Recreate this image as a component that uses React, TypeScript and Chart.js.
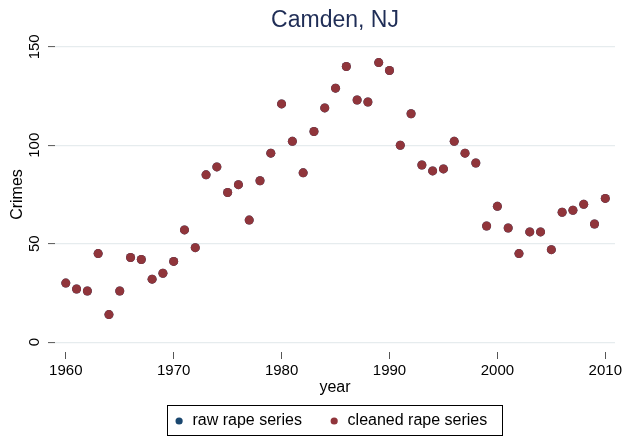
import React, { useEffect, useRef } from "react";
import { Chart, registerables } from "chart.js";

Chart.register(...registerables);

const chartTitle = "Camden, NJ";
const xAxisTitle = "year";
const yAxisTitle = "Crimes";
const seriesLabels = ["raw rape series", "cleaned rape series"];

const years = [
  1960, 1961, 1962, 1963, 1964, 1965, 1966, 1967, 1968, 1969,
  1970, 1971, 1972, 1973, 1974, 1975, 1976, 1977, 1978, 1979,
  1980, 1981, 1982, 1983, 1984, 1985, 1986, 1987, 1988, 1989,
  1990, 1991, 1992, 1993, 1994, 1995, 1996, 1997, 1998, 1999,
  2000, 2001, 2002, 2003, 2004, 2005, 2006, 2007, 2008, 2009, 2010,
];

const rawRape = [
  30, 27, 26, 45, 14, 26, 43, 42, 32, 35,
  41, 57, 48, 85, 89, 76, 80, 62, 82, 96,
  121, 102, 86, 107, 119, 129, 140, 123, 122, 142,
  138, 100, 116, 90, 87, 88, 102, 96, 91, 59,
  69, 58, 45, 56, 56, 47, 66, 67, 70, 60, 73,
];

const cleanedRape = [
  30, 27, 26, 45, 14, 26, 43, 42, 32, 35,
  41, 57, 48, 85, 89, 76, 80, 62, 82, 96,
  121, 102, 86, 107, 119, 129, 140, 123, 122, 142,
  138, 100, 116, 90, 87, 88, 102, 96, 91, 59,
  69, 58, 45, 56, 56, 47, 66, 67, 70, 60, 73,
];

const xTicks = [1960, 1970, 1980, 1990, 2000, 2010];
const yTicks = [0, 50, 100, 150];

const FONT = '"Liberation Sans", Arial, Helvetica, sans-serif';
const RAW_COLOR = "#1a476f";
const CLEAN_COLOR = "#90353b";
const TITLE_COLOR = "#1f2d56";

const titlePlugin = {
  id: "stataTitle",
  afterDraw(chart: any) {
    const { ctx, chartArea } = chart;
    ctx.save();
    ctx.font = `23px ${FONT}`;
    ctx.fillStyle = TITLE_COLOR;
    ctx.textAlign = "center";
    ctx.textBaseline = "middle";
    ctx.fillText(chartTitle, (chartArea.left + chartArea.right) / 2, 20.5);
    ctx.restore();
  },
};

const legendPlugin = {
  id: "boxLegend",
  afterDraw(chart: any) {
    const { ctx, chartArea } = chart;
    ctx.save();
    ctx.font = `16px ${FONT}`;
    const items = chart.data.datasets.map((d: any) => ({
      label: d.label,
      color: d.backgroundColor,
      w: ctx.measureText(d.label).width,
    }));
    const padL = 11.6, padR = 15.6, dotToText = 13.4, itemGap = 32.3, dotR = 3.6;
    let width = padL + padR + itemGap * (items.length - 1);
    items.forEach((it: any) => (width += dotToText + it.w));
    const cx = (chartArea.left + chartArea.right) / 2;
    const left = Math.round(cx - width / 2) + 0.5;
    const top = chartArea.bottom + 53.5;
    const height = 30;
    const midY = top + 15.5;
    ctx.strokeStyle = "#000";
    ctx.lineWidth = 1;
    ctx.strokeRect(left, top, Math.round(width), height);
    let x = left + padL;
    ctx.textAlign = "left";
    ctx.textBaseline = "middle";
    items.forEach((it: any) => {
      ctx.beginPath();
      ctx.arc(x, midY, dotR, 0, Math.PI * 2);
      ctx.fillStyle = it.color;
      ctx.fill();
      ctx.fillStyle = "#000";
      ctx.fillText(it.label, x + dotToText, midY);
      x += dotToText + it.w + itemGap;
    });
    ctx.restore();
  },
};

export default function App() {
  const canvasRef = useRef<HTMLCanvasElement | null>(null);

  useEffect(() => {
    document.body.style.margin = "0";
    const canvas = canvasRef.current;
    if (!canvas) return;
    const chart = new Chart(canvas, {
      type: "scatter",
      data: {
        datasets: [
          {
            label: seriesLabels[0],
            data: years.map((y, i) => ({ x: y, y: rawRape[i] })),
            backgroundColor: RAW_COLOR,
            borderColor: RAW_COLOR,
            pointRadius: 4.5,
            borderWidth: 0,
            order: 1,
          },
          {
            label: seriesLabels[1],
            data: years.map((y, i) => ({ x: y, y: cleanedRape[i] })),
            backgroundColor: CLEAN_COLOR,
            borderColor: CLEAN_COLOR,
            pointRadius: 4.5,
            borderWidth: 0,
            order: 0,
          },
        ],
      },
      options: {
        responsive: false,
        animation: false,
        clip: false,
        layout: { padding: { top: 37, left: 0, right: 11, bottom: 39 } },
        plugins: {
          legend: { display: false },
          title: { display: false },
          tooltip: { enabled: false },
        },
        scales: {
          x: {
            type: "linear",
            min: 1959,
            max: 2010.9,
            afterBuildTicks: (s: any) => {
              s.ticks = xTicks.map((v) => ({ value: v }));
            },
            afterFit: (s: any) => {
              s.height = 48;
            },
            border: { display: false },
            grid: {
              display: true,
              drawOnChartArea: false,
              drawTicks: true,
              tickLength: 7,
              tickColor: "#555",
              tickWidth: 1,
            },
            ticks: {
              padding: 3,
              color: "#000",
              font: { family: FONT, size: 15 },
              maxRotation: 0,
              callback: (v: any) => String(v),
            },
            title: {
              display: true,
              text: xAxisTitle,
              color: "#000",
              font: { family: FONT, size: 16 },
              padding: { top: 0, bottom: 3 },
            },
          },
          y: {
            type: "linear",
            min: -5,
            max: 155,
            afterBuildTicks: (s: any) => {
              s.ticks = yTicks.map((v) => ({ value: v }));
            },
            afterFit: (s: any) => {
              s.width = 55;
            },
            border: { display: false },
            grid: {
              color: "#e6ecee",
              lineWidth: 1.2,
              drawTicks: true,
              tickLength: 7,
              tickColor: "#555",
              tickWidth: 1,
            },
            ticks: {
              padding: 1,
              crossAlign: "center",
              minRotation: 90,
              maxRotation: 90,
              color: "#000",
              font: { family: FONT, size: 15 },
              callback: (v: any) => String(v),
            },
            title: {
              display: true,
              text: yAxisTitle,
              color: "#000",
              font: { family: FONT, size: 16 },
              padding: { top: 8, bottom: 0 },
            },
          },
        },
      },
      plugins: [titlePlugin, legendPlugin],
    });
    return () => chart.destroy();
  }, []);

  return (
    <div style={{ width: 626, height: 439, background: "#fff" }}>
      <canvas ref={canvasRef} width={626} height={439} style={{ display: "block" }} />
    </div>
  );
}
